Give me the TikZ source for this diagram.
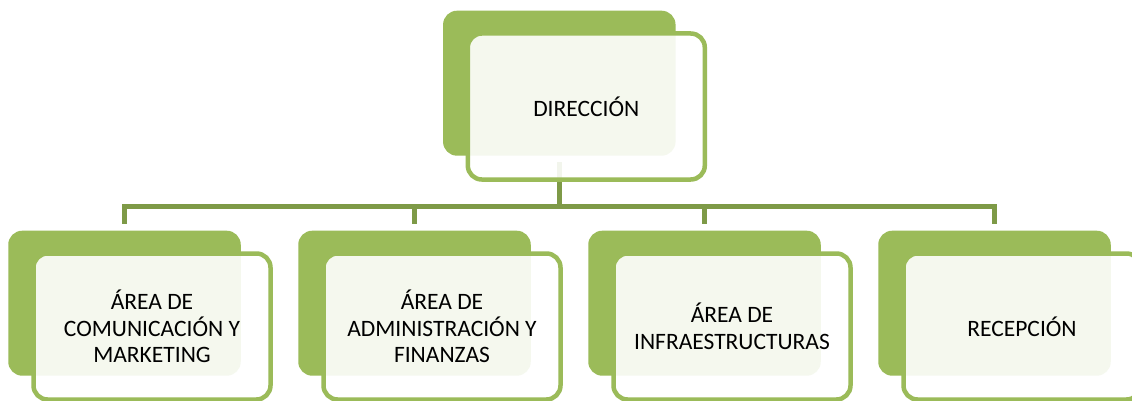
\documentclass[tikz,border=0pt]{standalone}
\usepackage{fontspec}
\setmainfont{Carlito}
\definecolor{boxgreen}{HTML}{9BBB59}
\definecolor{conngreen}{HTML}{7E9A47}
\begin{document}
\begin{tikzpicture}[x=1pt,y=-1pt,
  backbox/.style={draw=none, fill=boxgreen, rounded corners=14pt, minimum width=232.5pt, minimum height=145pt, inner sep=0pt},
  frontbox/.style={draw=boxgreen, line width=4.5pt, fill=white, fill opacity=0.9, text opacity=1, rounded corners=14pt, minimum width=237pt, minimum height=146pt, inner sep=0pt, align=center, font=\fontsize{23.5}{26.7}\selectfont, text=black},
  conn/.style={draw=conngreen, line width=5pt, line join=miter}]
\clip (0,0) rectangle (1132,401);
\useasboundingbox (0,0) rectangle (1132,401);
\fill[white] (0,0) rectangle (1132,401);
% back boxes
\node[backbox] (tb) at (559.3,83.2) {};
\node[backbox] (b1) at (124.5,303.2) {};
\node[backbox] (b2) at (414.5,303.2) {};
\node[backbox] (b3) at (704.5,303.2) {};
\node[backbox] (b4) at (994.5,303.2) {};
% connectors
\coordinate (busR) at (994.5,206);
\draw[conn] ([yshift=-6.3pt]tb.south) -- (tb.south |- busR);
\draw[conn] ([yshift=6.7pt]b1.north) |- (busR) -- ([yshift=6.7pt]b4.north);
\draw[conn] ([yshift=6.7pt]b2.north) -- (b2.north |- busR);
\draw[conn] ([yshift=6.7pt]b3.north) -- (b3.north |- busR);
% front boxes
\node[frontbox] (tf) at (586.3,106.5) {\raisebox{-3pt}{DIRECCIÓN}};
\node[frontbox] (f1) at (152,326.5) {ÁREA DE\\COMUNICACIÓN Y\\MARKETING};
\node[frontbox] (f2) at (442,326.5) {ÁREA DE\\ADMINISTRACIÓN Y\\FINANZAS};
\node[frontbox] (f3) at (732,326.5) {ÁREA DE\\INFRAESTRUCTURAS};
\node[frontbox] (f4) at (1022,326.5) {RECEPCIÓN};
\end{tikzpicture}
\end{document}
